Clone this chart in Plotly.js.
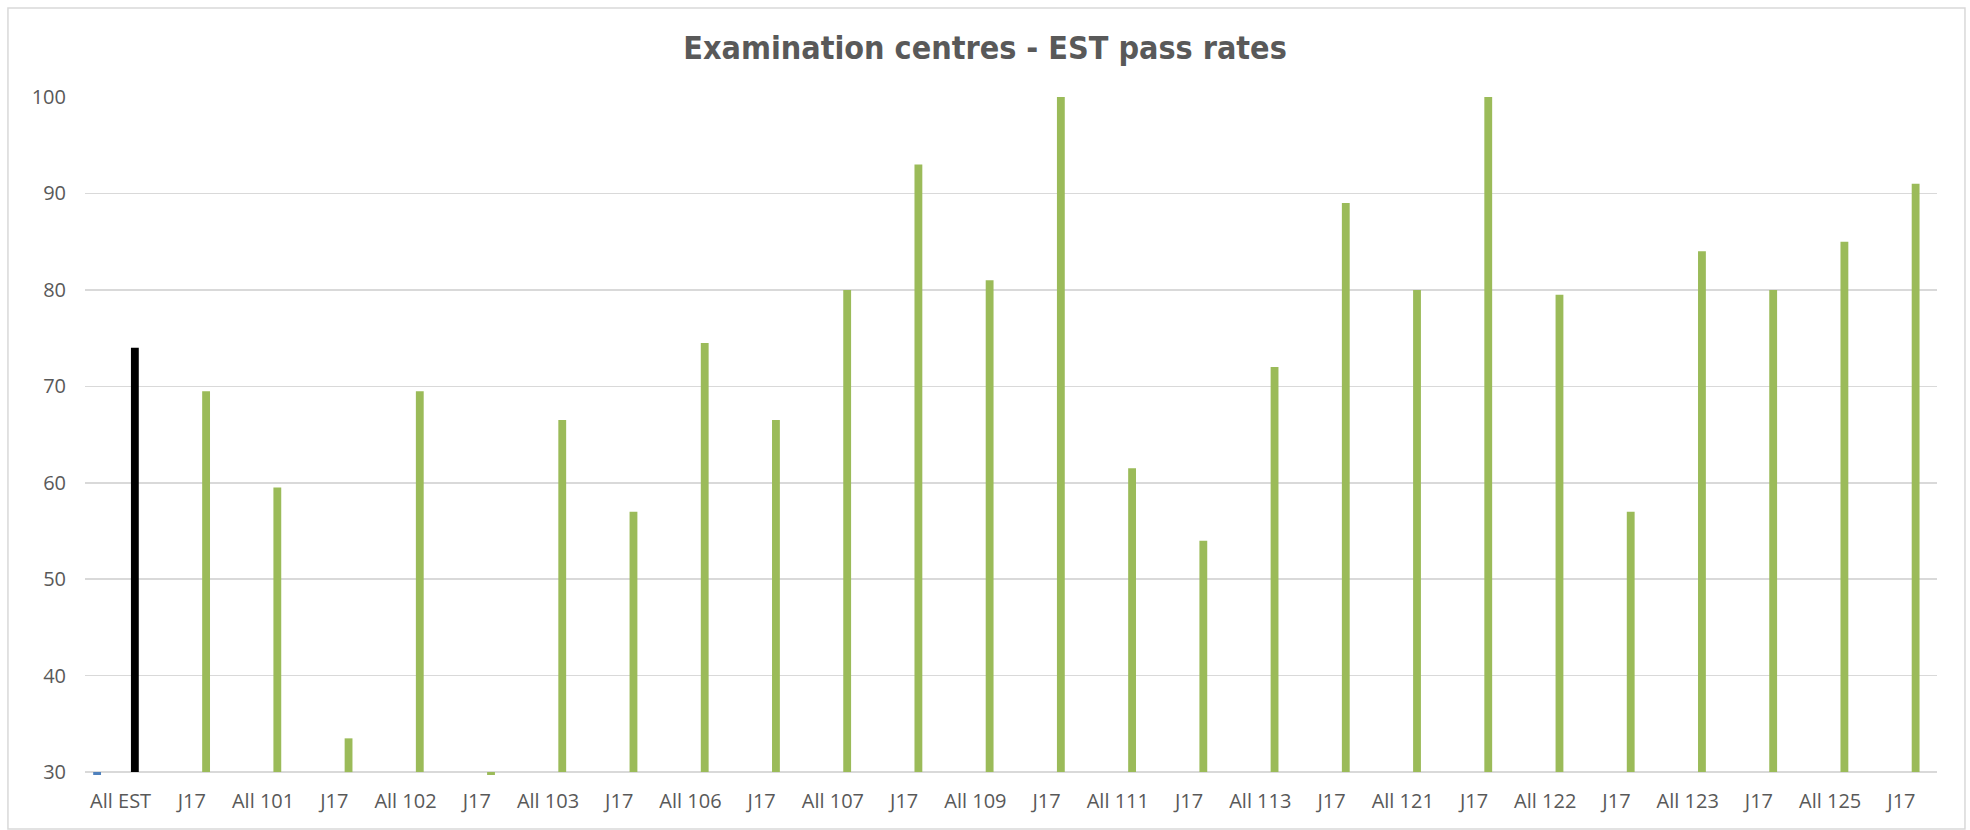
<!DOCTYPE html>
<html>
<head>
<meta charset="utf-8">
<script src="https://cdn.plot.ly/plotly-3.0.1.min.js"></script>
<style>
  html, body { margin: 0; padding: 0; background: #fff; }
  #grafica { width: 1970px; height: 830px; }
</style>
</head>
<body>
<div id="grafica"></div>
<script>
// categorias del eje X (se repite J17, por eso uso posiciones numericas + ticktext)
const centros = ['All EST', 'J17', 'All 101', 'J17', 'All 102', 'J17', 'All 103', 'J17',
    'All 106', 'J17', 'All 107', 'J17', 'All 109', 'J17', 'All 111', 'J17',
    'All 113', 'J17', 'All 121', 'J17', 'All 122', 'J17', 'All 123', 'J17',
    'All 125', 'J17'];

// porcentaje de aprobados (serie principal)
const aprobados = [74, 69.5, 59.5, 33.5, 69.5, 0, 66.5, 57,
    74.5, 66.5, 80, 93, 81, 100, 61.5, 54,
    72, 89, 80, 100, 79.5, 57, 84, 80,
    85, 91];

// serie azul, solo tiene el primer punto (por debajo del eje)
const otraSerie = [0];

const ejeY = [30, 40, 50, 60, 70, 80, 90, 100];

function dibujar() {
    const minimo = ejeY[0];
    const pos = centros.map((c, i) => i);

    // como en Excel, las barras salen desde el cruce del eje (30)
    const traceAzul = {
        type: 'bar',
        x: otraSerie.map((v, i) => i),
        y: otraSerie.map(v => v - minimo),
        base: minimo,
        width: 0.11,
        offset: -0.385,
        marker: { color: '#4F81BD' },
        customdata: otraSerie,
        hovertemplate: '%{customdata}<extra></extra>',
        name: 'Serie 1'
    };

    const traceVerde = {
        type: 'bar',
        x: pos,
        y: aprobados.map(v => v - minimo),
        base: minimo,
        width: 0.11,
        offset: 0.145,
        marker: { color: aprobados.map((v, i) => i === 0 ? '#000000' : '#9BBB59') },
        customdata: aprobados,
        hovertemplate: '%{customdata}<extra></extra>',
        name: 'Pass rate'
    };

    const fuenteEje = { family: 'Open Sans, Lato, sans-serif', size: 20, color: '#595959' };

    const layout = {
        width: 1970,
        height: 830,
        margin: { l: 85, r: 33, t: 97, b: 55 },
        paper_bgcolor: '#ffffff',
        plot_bgcolor: '#ffffff',
        barmode: 'overlay',
        showlegend: false,
        title: {
            text: 'Examination centres - EST pass rates',
            font: { family: 'DejaVu Sans Condensed, DejaVu Sans, sans-serif', size: 32, weight: 'bold', color: '#595959' },
            xref: 'container', x: 0.5, xanchor: 'center',
            yref: 'container', y: 0.942, yanchor: 'middle'
        },
        xaxis: {
            range: [-0.5, centros.length - 0.5],
            tickvals: pos,
            ticktext: centros,
            tickangle: 0,
            showgrid: false,
            zeroline: false,
            showline: false,
            ticks: '',
            ticklabelstandoff: 12,
            tickfont: fuenteEje,
            fixedrange: true
        },
        yaxis: {
            range: [29.7, 100],
            tickvals: ejeY,
            showgrid: true,
            gridcolor: '#d9d9d9',
            gridwidth: 1.5,
            zeroline: false,
            showline: false,
            ticks: '',
            ticklabelstandoff: 18,
            tickfont: fuenteEje,
            fixedrange: true
        },
        shapes: [{
            type: 'rect', xref: 'paper', yref: 'paper',
            x0: -0.0416, x1: 1.0151, y0: -0.0796, y1: 1.1313,
            line: { color: '#d9d9d9', width: 1.5 },
            fillcolor: 'rgba(0,0,0,0)',
            layer: 'below'
        }]
    };

    Plotly.newPlot('grafica', [traceAzul, traceVerde], layout, { displayModeBar: false, staticPlot: true });
}

dibujar();
</script>
</body>
</html>
